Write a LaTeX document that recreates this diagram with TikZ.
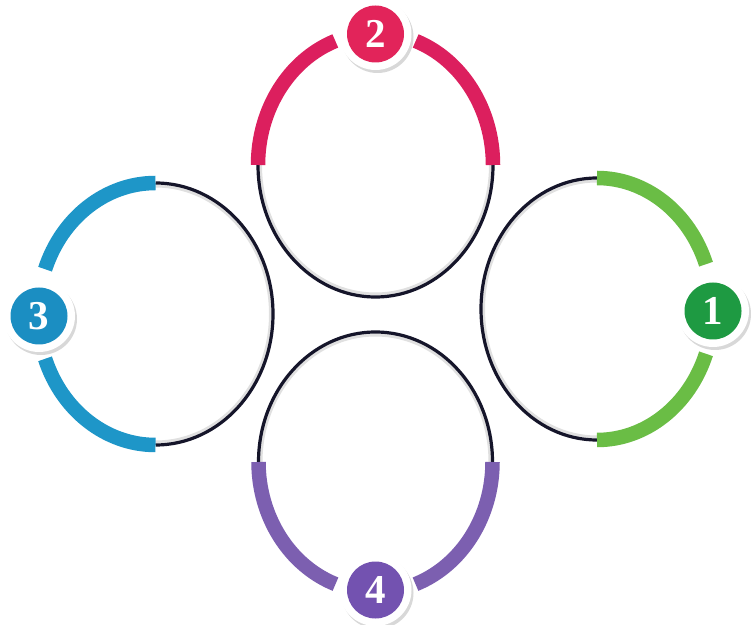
\documentclass[tikz,border=0pt]{standalone}
\usepackage{fontspec}
\setmainfont{Liberation Serif}
\usetikzlibrary{shadows}
\definecolor{wirecol}{HTML}{15152A}
\definecolor{bandtwo}{HTML}{DC1F5E}
\definecolor{badgetwo}{HTML}{E2245A}
\definecolor{bandthree}{HTML}{1E96C8}
\definecolor{badgethree}{HTML}{1B8EC2}
\definecolor{bandone}{HTML}{6ABD45}
\definecolor{badgeone}{HTML}{1E9A42}
\definecolor{bandfour}{HTML}{7C5FB0}
\definecolor{badgefour}{HTML}{7352B0}
\begin{document}
\begin{tikzpicture}[x=1pt,y=1pt]
\tikzset{
  band/.style={line width=14.5pt,line cap=butt},
  wire/.style={line width=3.2pt,draw=wirecol},
  wireshadow/.style={line width=3pt,draw=black!12},
  ring/.style={circle,fill=white,minimum size=72pt,inner sep=0pt,
    drop shadow={shadow xshift=2pt,shadow yshift=-3pt,fill=black!25,opacity=0.6}},
  badge/.style={circle,minimum size=57pt,inner sep=0pt,text=white,
    font=\fontsize{41}{41}\selectfont\bfseries}
}
\useasboundingbox (0,0) rectangle (751,624);
\clip (0,0) rectangle (751,624);
\fill[white] (0,0) rectangle (751,624);
% centres
\coordinate (c2) at (375.5,459);
\coordinate (c3) at (155.5,310);
\coordinate (c1) at (597,315);
\coordinate (c4) at (375.5,162);
% ---- circle 2 (top)
\draw[wireshadow] ([shift={(180:115pt and 129pt)}]c2) arc[start angle=180,end angle=360,x radius=115pt,y radius=129pt];
\draw[wire] ([shift={(180:117.5pt and 132pt)}]c2) arc[start angle=180,end angle=360,x radius=117.5pt,y radius=132pt];
\draw[band,draw=bandtwo] ([shift={(0:117.5pt and 132pt)}]c2) arc[start angle=0,end angle=70,x radius=117.5pt,y radius=132pt];
\draw[band,draw=bandtwo] ([shift={(110:117.5pt and 132pt)}]c2) arc[start angle=110,end angle=180,x radius=117.5pt,y radius=132pt];
% ---- circle 3 (left)
\draw[wireshadow] ([shift={(-90:115pt and 128pt)}]c3) arc[start angle=-90,end angle=90,x radius=115pt,y radius=128pt];
\draw[wire] ([shift={(-90:117.5pt and 131pt)}]c3) arc[start angle=-90,end angle=90,x radius=117.5pt,y radius=131pt];
\draw[band,draw=bandthree] ([shift={(90:117.5pt and 131pt)}]c3) arc[start angle=90,end angle=160,x radius=117.5pt,y radius=131pt];
\draw[band,draw=bandthree] ([shift={(200:117.5pt and 131pt)}]c3) arc[start angle=200,end angle=270,x radius=117.5pt,y radius=131pt];
% ---- circle 1 (right)
\draw[wireshadow] ([shift={(90:113.5pt and 128pt)}]c1) arc[start angle=90,end angle=270,x radius=113.5pt,y radius=128pt];
\draw[wire] ([shift={(90:116pt and 131pt)}]c1) arc[start angle=90,end angle=270,x radius=116pt,y radius=131pt];
\draw[band,draw=bandone] ([shift={(90:116pt and 131pt)}]c1) arc[start angle=90,end angle=20,x radius=116pt,y radius=131pt];
\draw[band,draw=bandone] ([shift={(-20:116pt and 131pt)}]c1) arc[start angle=-20,end angle=-90,x radius=116pt,y radius=131pt];
% ---- circle 4 (bottom)
\draw[wireshadow] ([shift={(0:114.5pt and 127pt)}]c4) arc[start angle=0,end angle=180,x radius=114.5pt,y radius=127pt];
\draw[wire] ([shift={(0:117pt and 130pt)}]c4) arc[start angle=0,end angle=180,x radius=117pt,y radius=130pt];
\draw[band,draw=bandfour] ([shift={(180:117pt and 130pt)}]c4) arc[start angle=180,end angle=250,x radius=117pt,y radius=130pt];
\draw[band,draw=bandfour] ([shift={(290:117pt and 130pt)}]c4) arc[start angle=290,end angle=360,x radius=117pt,y radius=130pt];
% ---- badges
\node[ring] (r2) at (375.5,590) {};
\node[badge,fill=badgetwo] (b2) at (r2) {2};
\node[ring] (r3) at (39,308) {};
\node[badge,fill=badgethree] (b3) at (r3) {3};
\node[ring] (r1) at (713,313) {};
\node[badge,fill=badgeone] (b1) at (r1) {1};
\node[ring] (r4) at (375.5,34) {};
\node[badge,fill=badgefour] (b4) at (r4) {4};
\end{tikzpicture}
\end{document}
